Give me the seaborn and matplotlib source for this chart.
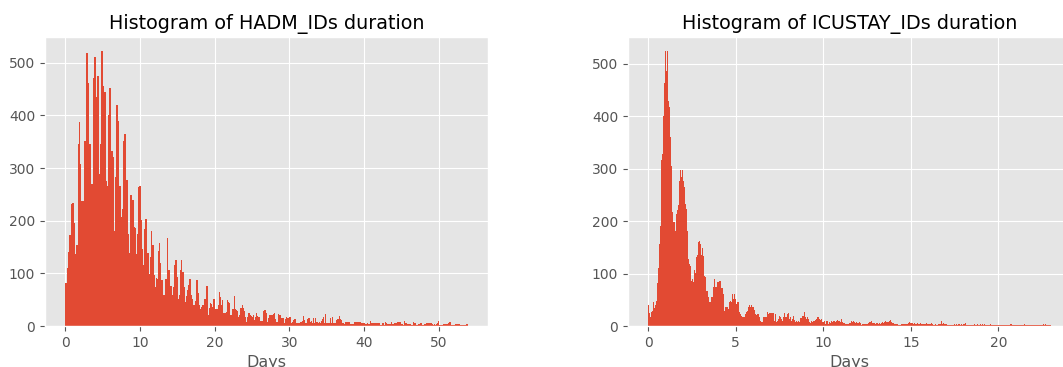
import numpy as np
import pandas as pd
import matplotlib
matplotlib.use("Agg")
import matplotlib.pyplot as plt
import seaborn as sns

# Per-bin counts of hospital admission (HADM_ID) durations, in days
hadm_counts = [
    81, 81, 111, 140, 172, 172, 232, 234, 234, 195,
    136, 153, 153, 345, 388, 307, 237, 237, 237, 352,
    352, 519, 519, 462, 346, 346, 270, 270, 471, 511,
    511, 436, 475, 475, 289, 346, 523, 523, 456, 445, 445,
    275, 266, 400, 453, 453, 333, 333, 321, 180, 284,
    419, 419, 390, 266, 266, 207, 222, 352, 365, 365,
    278, 278, 174, 139, 248, 248, 240, 240, 188, 187,
    136, 174, 264, 266, 266, 201, 146, 103, 116, 185,
    203, 203, 138,
    139, 98, 131, 180, 153, 153, 97, 74, 92, 90,
    142, 158, 120, 87, 87, 59, 59, 89, 89, 167,
    106, 106, 76, 76, 59, 74, 116, 125, 125, 93,
    52, 59, 106, 125, 103, 103, 74, 46, 57, 68,
    78, 90, 90, 59, 52, 40, 40, 48, 87, 87,
    62, 40, 32, 37, 40, 40, 51, 51,
    76, 76, 21, 34, 43, 41, 37, 51, 51, 33,
    33, 33, 40, 64, 56, 40, 49, 24, 24, 24,
    27, 49, 46, 44, 21, 21, 33, 33, 57, 32,
    30, 28, 18, 21, 35, 35, 40, 35, 28, 18,
    8, 18, 24, 25, 21, 19, 18, 20, 11, 18,
    25, 19, 18, 18, 10, 10, 9, 28, 30, 30,
    24, 18, 8, 16, 21, 20, 20, 20,
    22, 24, 13, 8, 7, 23, 21, 21, 15, 15,
    15, 5, 13, 18, 16, 16, 17, 17, 5, 7,
    11, 13, 13, 5, 6, 6, 6, 8, 8, 9,
    19, 11, 5, 5, 13, 16, 15, 8, 9, 6,
    15, 5, 16, 7, 7, 5, 7, 5, 9, 13,
    17, 6, 23, 6, 5, 5, 5, 15, 5, 18,
    5, 5, 5, 11, 13, 13, 19, 14, 11, 6,
    5, 4, 8, 8, 8, 8, 8, 3, 3, 3,
    3, 8, 8, 8, 8, 8, 8, 8, 6, 6,
    5, 5, 3, 3, 5, 3, 3, 9,
    5, 5, 6, 6, 6, 6, 6, 6, 6, 2,
    2, 6, 6, 2, 7, 5, 3, 3, 3, 5,
    3, 8, 4, 3, 5, 5, 5, 7, 7, 7,
    7, 3, 3, 2, 9, 5, 5, 3, 3, 3,
    3, 2, 2, 8, 5, 5, 1, 1, 4, 4,
    5, 6, 2, 2, 4, 4, 5, 5, 6, 6,
    6, 6, 3, 1, 3, 1, 3, 5, 9, 2,
    2, 1, 1, 4, 4, 4, 4, 4, 6, 7,
    7, 1, 1, 2, 2, 3, 4, 4, 4, 3,
    1, 1, 1, 1, 2, 2, 4, 4,
]
hadm_max_days = 53.92

# Per-bin counts of ICU stay (ICUSTAY_ID) durations, in days
icustay_counts = [
    41, 24, 17, 27, 29, 45, 34, 41, 47, 82,
    110, 156, 190, 317, 328, 400, 464, 525, 487, 525,
    429, 417, 361, 305, 217, 198, 198, 182, 214, 221,
    230, 276, 298, 284, 297, 277, 265, 233, 223, 182,
    128, 118, 115, 85, 90, 83, 106, 102, 132, 135,
    160, 162, 156, 135, 149, 134,
    95, 93, 67, 67, 55, 45, 45, 56, 56, 75,
    90, 75, 75, 83, 83, 85, 85, 73, 73, 61,
    28, 37, 37, 37, 37, 32, 45, 48, 45, 61,
    52, 61, 52, 42, 45, 45, 26, 23, 20, 17,
    17, 17, 23, 26, 29, 36, 41, 36, 41, 36,
    36, 31, 23, 21, 22, 22, 17, 10, 7, 7,
    18, 18, 18, 17, 27, 22, 24, 24, 24, 24,
    24, 10, 23, 7, 10, 13, 20, 17, 13, 10,
    18, 24, 18, 18, 22, 24, 13, 17, 10, 13,
    20, 11, 7, 10, 7, 10, 7, 15, 15, 20,
    20, 26, 18, 13, 17, 13, 7, 5, 10, 7,
    10, 10, 11, 13, 17, 17, 13, 11, 13, 7,
    7, 10, 4, 9, 9, 4,
    8, 6, 9, 7, 10, 9, 8, 10, 11, 10,
    9, 8, 14, 8, 6, 5, 4, 4, 4, 4,
    5, 4, 6, 9, 8, 9, 8, 6, 7, 6,
    6, 7, 5, 1, 4, 4, 3, 4, 4, 4,
    5, 7, 8, 9, 6, 5, 5, 4, 6, 5,
    4, 6, 4, 5, 8, 6, 7, 9, 8, 7,
    8, 9, 12, 7, 5, 6, 3, 4, 4, 3,
    2, 2, 2, 3, 4, 3, 3, 4, 4, 3,
    5, 8, 6, 6, 5, 4, 5, 4, 3, 5,
    3, 4, 5, 3, 4, 4, 3, 4, 5, 3,
    4, 3, 4, 5, 3, 2, 2, 3, 2, 2,
    4, 3, 4, 10, 4, 5, 4, 4, 3, 2,
    2, 2, 1, 1, 1, 1, 3, 2, 3, 2,
    3, 4, 2, 3, 2, 3, 4, 6, 1, 1,
    1, 1, 2, 1, 2, 1, 2, 3, 2, 2,
    3, 2, 2, 3, 2, 3, 2, 3, 2, 2,
    1, 2, 2, 3, 2, 2, 1, 2, 1, 1,
    1, 1, 2, 1, 2, 2, 1, 2, 2, 1,
    2, 1, 2, 3, 4, 2, 2, 2, 2, 1,
    2, 2, 2, 1, 2, 1, 1, 3, 2, 2,
    2, 2, 1, 1, 1, 1, 2, 1, 1, 1,
    1, 1, 1, 2, 2, 2, 3, 2, 3, 2,
    2, 2, 2, 1,
]
icustay_max_days = 22.99

titles = ["Histogram of HADM_IDs duration", "Histogram of ICUSTAY_IDs duration"]
x_label = "Days"

plt.style.use("ggplot")
bar_color = "#E24A33"

fig = plt.figure(figsize=(10.63, 3.67), dpi=100)
ax_left = fig.add_axes([45 / 1063, 41 / 367, 443 / 1063, 289 / 367])
ax_right = fig.add_axes([628 / 1063, 41 / 367, 443 / 1063, 289 / 367])


def draw_hist(ax, counts, max_days, title):
    counts = np.asarray(counts, dtype=float)
    n_bins = len(counts)
    width = max_days / n_bins
    df = pd.DataFrame({"days": (np.arange(n_bins) + 0.5) * width, "count": counts})
    sns.histplot(data=df, x="days", weights="count", bins=n_bins,
                 binrange=(0.0, max_days), ax=ax,
                 color=bar_color, alpha=1.0, linewidth=0)
    ax.set_title(title, fontsize=13.75, color="black")
    ax.set_xlabel(x_label, fontsize=11.5, color="#555555")
    ax.set_ylabel("")
    ax.set_yticks([0, 100, 200, 300, 400, 500])


draw_hist(ax_left, hadm_counts, hadm_max_days, titles[0])
draw_hist(ax_right, icustay_counts, icustay_max_days, titles[1])
ax_left.set_xticks([0, 10, 20, 30, 40, 50])
ax_right.set_xticks([0, 5, 10, 15, 20])

fig.savefig("out.png", dpi=100)
